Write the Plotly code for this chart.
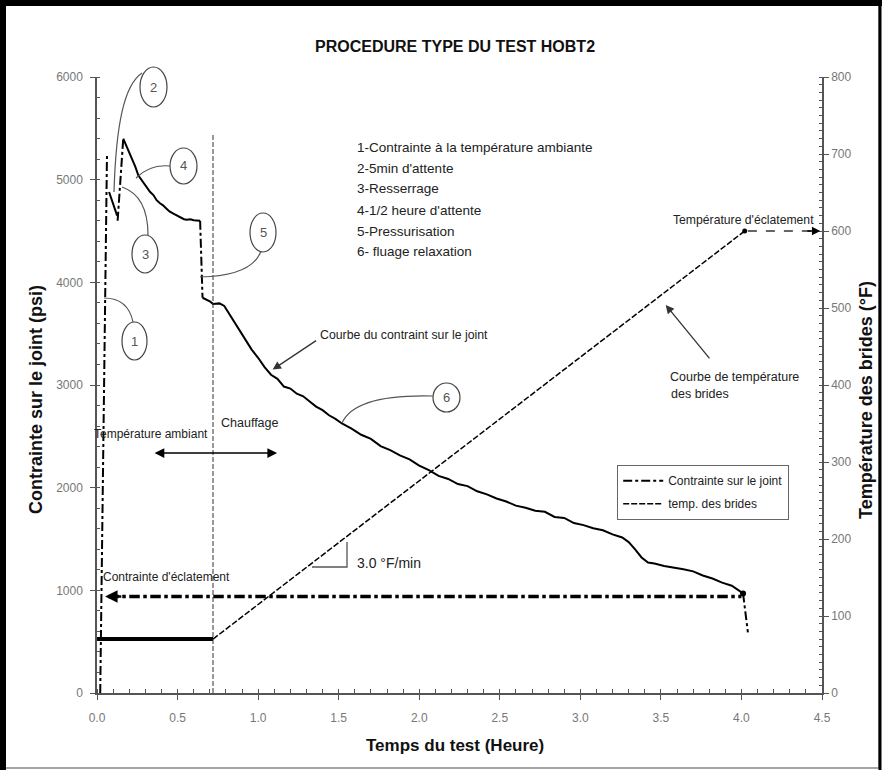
import plotly.graph_objects as go

# ---------------- data ----------------
# Stress on gasket (psi) - segments
load_x = [0.02, 0.062]
load_y = [0, 5250]
hold1_x = [0.075, 0.095, 0.125]
hold1_y = [4880, 4790, 4650]
retight_x = [0.128, 0.163]
retight_y = [4600, 5400]
hold2_x = [0.163, 0.19, 0.215, 0.237, 0.257, 0.28, 0.309, 0.33, 0.35, 0.37, 0.391, 0.41, 0.43,
           0.45, 0.474, 0.50, 0.52, 0.54, 0.557, 0.58, 0.60, 0.62, 0.640]
hold2_y = [5400, 5300, 5220, 5130, 5040, 4990, 4930, 4880, 4850, 4800, 4770, 4750, 4720,
           4690, 4670, 4650, 4630, 4615, 4610, 4615, 4605, 4600, 4600]
press_x = [0.640, 0.655]
press_y = [4600, 3850]
creep_x = [0.655, 0.70, 0.72, 0.76, 0.79, 0.81, 0.84, 0.87, 0.90, 0.93, 0.96, 1.00, 1.04, 1.08,
           1.12, 1.16, 1.20, 1.24, 1.28, 1.32, 1.36, 1.40, 1.44, 1.48, 1.52, 1.58, 1.64, 1.70,
           1.76, 1.82, 1.88, 1.94, 2.00, 2.06, 2.12, 2.18, 2.24, 2.30, 2.36, 2.42, 2.48, 2.54,
           2.60, 2.66, 2.72, 2.78, 2.84, 2.90, 2.96, 3.02, 3.08, 3.14, 3.20, 3.26, 3.30, 3.34,
           3.38, 3.42, 3.46, 3.52, 3.58, 3.64, 3.70, 3.76, 3.82, 3.88, 3.94, 4.00, 4.01]
creep_y = [3850, 3815, 3790, 3795, 3770, 3720, 3645, 3565, 3490, 3425, 3345, 3265, 3175, 3100,
           3060, 2985, 2965, 2915, 2890, 2840, 2790, 2755, 2705, 2670, 2625, 2575, 2515, 2475,
           2405, 2365, 2315, 2275, 2215, 2170, 2115, 2085, 2035, 2015, 1965, 1935, 1895, 1865,
           1825, 1805, 1775, 1765, 1715, 1705, 1655, 1635, 1605, 1585, 1545, 1515, 1470, 1400,
           1320, 1270, 1262, 1238, 1225, 1205, 1185, 1145, 1115, 1075, 1045, 985, 970]
final_x = [4.01, 4.04]
final_y = [970, 590]

# Flange temperature (F)
temp_amb_x = [0.0, 0.72]
temp_amb_y = [70, 70]
temp_x = [0.72, 4.02]
temp_y = [70, 600]

burst_stress = 940
burst_temp = 600
heat_start = 0.72

x_ticks = [0.0, 0.5, 1.0, 1.5, 2.0, 2.5, 3.0, 3.5, 4.0, 4.5]
steps = ["1-Contrainte à la température ambiante", "2-5min d'attente", "3-Resserrage",
         "4-1/2 heure d'attente", "5-Pressurisation", "6- fluage relaxation"]

# ---------------- layout helpers ----------------
L, T, W, H = 97, 77, 725, 616
def px(x):
    return (x - L) / W
def py(y):
    return (T + H - y) / H

NARROW = "Liberation Sans Narrow, Arial Narrow, Liberation Sans, Arial, sans-serif"
SANS = "Liberation Sans, Arial, sans-serif"

fig = go.Figure()
segs = [(load_x, load_y, "dashdot", True), (hold1_x, hold1_y, "solid", False),
        (retight_x, retight_y, "dashdot", False), (hold2_x, hold2_y, "solid", False),
        (press_x, press_y, "dashdot", False), (creep_x, creep_y, "solid", False),
        (final_x, final_y, "dashdot", False)]
for xs, ys, dash, leg in segs:
    fig.add_trace(go.Scatter(x=xs, y=ys, mode="lines", name="Contrainte sur le joint",
                             legendgroup="s", showlegend=leg,
                             line=dict(color="black", width=2, dash=dash)))
fig.add_trace(go.Scatter(x=[creep_x[-1]], y=[creep_y[-1]], mode="markers", showlegend=False,
                         marker=dict(color="black", size=6)))
fig.add_trace(go.Scatter(x=temp_amb_x, y=temp_amb_y, mode="lines", yaxis="y2", showlegend=False,
                         line=dict(color="black", width=4)))
fig.add_trace(go.Scatter(x=temp_x, y=temp_y, mode="lines", yaxis="y2", name="temp. des brides",
                         line=dict(color="black", width=1.5, dash="6px,2px")))
fig.add_trace(go.Scatter(x=[temp_x[-1]], y=[temp_y[-1]], mode="markers", yaxis="y2", showlegend=False,
                         marker=dict(color="black", size=5)))

axis_common = dict(showline=True, linecolor="#555", linewidth=1.5, showgrid=False, zeroline=False,
                   ticks="outside", ticklen=5, tickwidth=1.2, tickcolor="#555",
                   tickfont=dict(family=NARROW, size=12, color="#777"))

fig.update_layout(
    width=882, height=772,
    margin=dict(l=L, r=882 - L - W, t=T, b=772 - T - H),
    paper_bgcolor="white", plot_bgcolor="white",
    xaxis=dict(range=[0, 4.5], tickvals=x_ticks, tickformat=".1f", ticklabelstandoff=8,
               minor=dict(ticks="inside", ticklen=4, dtick=0.1, tickcolor="#555"), **axis_common),
    yaxis=dict(range=[0, 6000], dtick=1000, ticklabelstandoff=5,
               minor=dict(ticks="inside", ticklen=3, dtick=200, tickcolor="#555"), **axis_common),
    yaxis2=dict(range=[0, 800], dtick=100, overlaying="y", side="right", anchor="x",
                minor=dict(ticks="inside", ticklen=3, dtick=10, tickcolor="#555"), **axis_common),
    showlegend=True,
    legend=dict(x=px(617), y=py(465), xanchor="left", yanchor="top", bgcolor="white",
                bordercolor="#666", borderwidth=1.2, font=dict(family=NARROW, size=12, color="#222"),
                itemwidth=40, entrywidth=140, tracegroupgap=4),
)

shapes = []
shapes.append(dict(type="line", xref="x", yref="y", x0=heat_start, x1=heat_start, y0=0, y1=5450,
                   line=dict(color="#333", width=1, dash="5px,2px")))
shapes.append(dict(type="line", xref="x", yref="y", x0=0.07, x1=4.0, y0=burst_stress, y1=burst_stress,
                   line=dict(color="black", width=3.5, dash="dashdot")))
shapes.append(dict(type="line", xref="x", yref="y2", x0=4.04, x1=4.44, y0=burst_temp, y1=burst_temp,
                   line=dict(color="#333", width=1.3, dash="dash")))
shapes.append(dict(type="path", xref="paper", yref="paper",
                   path=f"M {px(312)},{py(567)} L {px(347)},{py(567)} L {px(347)},{py(542)}",
                   line=dict(color="#555", width=1.3)))
circles = [("1", 122, 147, 322, 360), ("2", 140, 167, 67, 107), ("3", 132, 158, 235, 273),
           ("4", 170, 197, 148, 184), ("5", 250, 276, 213, 252), ("6", 433, 460, 383, 412)]
for lab, x0, x1, y0, y1 in circles:
    shapes.append(dict(type="circle", xref="paper", yref="paper", x0=px(x0), x1=px(x1),
                       y0=py(y1), y1=py(y0), line=dict(color="#444", width=1.2)))
def P(x, y):
    return f"{px(x)},{py(y)}"
leaders = [
    f"M {P(104,298)} Q {P(128,298)} {P(133,322)}",
    f"M {P(142,73)} C {P(124,85)} {P(116,125)} {P(114,192)}",
    f"M {P(170,166)} Q {P(150,164)} {P(136,178)}",
    f"M {P(148,235)} Q {P(148,196)} {P(122,187)}",
    f"M {P(261,251)} Q {P(252,276)} {P(200,277)}",
    f"M {P(433,396)} Q {P(355,394)} {P(342,423)}",
]
for pth in leaders:
    shapes.append(dict(type="path", xref="paper", yref="paper", path=pth,
                       line=dict(color="#555", width=1.2)))
# frame
shapes.append(dict(type="rect", xref="paper", yref="paper", x0=px(2), x1=px(879), y0=py(768), y1=py(2),
                   line=dict(color="#888", width=1.5)))
shapes.append(dict(type="line", xref="paper", yref="paper", x0=px(3), x1=px(3), y0=py(770), y1=py(0),
                   line=dict(color="black", width=6)))
shapes.append(dict(type="line", xref="paper", yref="paper", x0=px(0), x1=px(882), y0=py(3), y1=py(3),
                   line=dict(color="black", width=6)))
shapes.append(dict(type="line", xref="paper", yref="paper", x0=px(880), x1=px(880), y0=py(770), y1=py(0),
                   line=dict(color="black", width=3)))
fig.update_layout(shapes=shapes)

ann = []
def text(x, y, s, size=14, family=NARROW, color="#222", xanchor="center", bold=False, angle=0):
    ann.append(dict(xref="paper", yref="paper", x=px(x), y=py(y), text=(f"<b>{s}</b>" if bold else s),
                    showarrow=False, xanchor=xanchor, yanchor="middle", textangle=angle,
                    font=dict(family=family, size=size, color=color)))

text(455, 46, "PROCEDURE TYPE DU TEST HOBT2", size=16, bold=True, color="#111")
for i, s in enumerate(steps):
    text(355, 147 + 21 * i, s, size=13.5, xanchor="left")
for lab, x0, x1, y0, y1 in circles:
    text((x0 + x1) / 2, (y0 + y1) / 2, lab, size=13, color="#555")
text(151, 434, "Température ambiant", size=12)
text(250, 423, "Chauffage", size=12.5)
text(166, 577, "Contrainte d'éclatement", size=12)
text(355, 563, "3.0 °F/min", size=14, family=SANS, xanchor="left")
text(404, 335, "Courbe du contraint sur le joint", size=12.3)
text(734, 377, "Courbe de température", size=12.5)
text(700, 394, "des brides", size=12.5)
text(743, 220, "Température d'éclatement", size=12.2)
text(455, 745, "Temps du test (Heure)", size=17, bold=True, color="#111")
text(36, 400, "Contrainte sur le joint (psi)", size=18, bold=True, color="#111", family=SANS, angle=-90)
text(866, 400, "Température des brides (°F)", size=18, bold=True, color="#111", family=SANS, angle=-90)

ann.append(dict(x=1.118, y=2337, xref="x", yref="y", ax=0.348, ay=2337, axref="x", ayref="y",
                text="", showarrow=True, arrowside="end+start", arrowhead=2, startarrowhead=2,
                arrowsize=1.3, startarrowsize=1.3, arrowwidth=1.5, arrowcolor="black"))
ann.append(dict(x=1.09, y=3150, xref="x", yref="y", ax=45, ay=-30, text="", showarrow=True,
                arrowhead=2, arrowsize=1.3, arrowwidth=1.3, arrowcolor="#333"))
ann.append(dict(x=3.53, y=504, xref="x", yref="y2", ax=45, ay=55, text="", showarrow=True,
                arrowhead=2, arrowsize=1.3, arrowwidth=1.3, arrowcolor="#333"))
ann.append(dict(x=0.05, y=burst_stress, xref="x", yref="y", ax=0.16, ay=burst_stress, axref="x", ayref="y",
                text="", showarrow=True, arrowhead=2, arrowsize=1.0, arrowwidth=2.5, arrowcolor="black"))
ann.append(dict(x=4.49, y=burst_temp, xref="x", yref="y2", ax=4.40, ay=burst_temp, axref="x", ayref="y2",
                text="", showarrow=True, arrowhead=2, arrowsize=1.3, arrowwidth=1.3, arrowcolor="black"))
fig.update_layout(annotations=ann)

fig.write_html("out.html", config={"displayModeBar": False},
               post_script="document.body.style.margin='0';document.body.style.padding='0';")
